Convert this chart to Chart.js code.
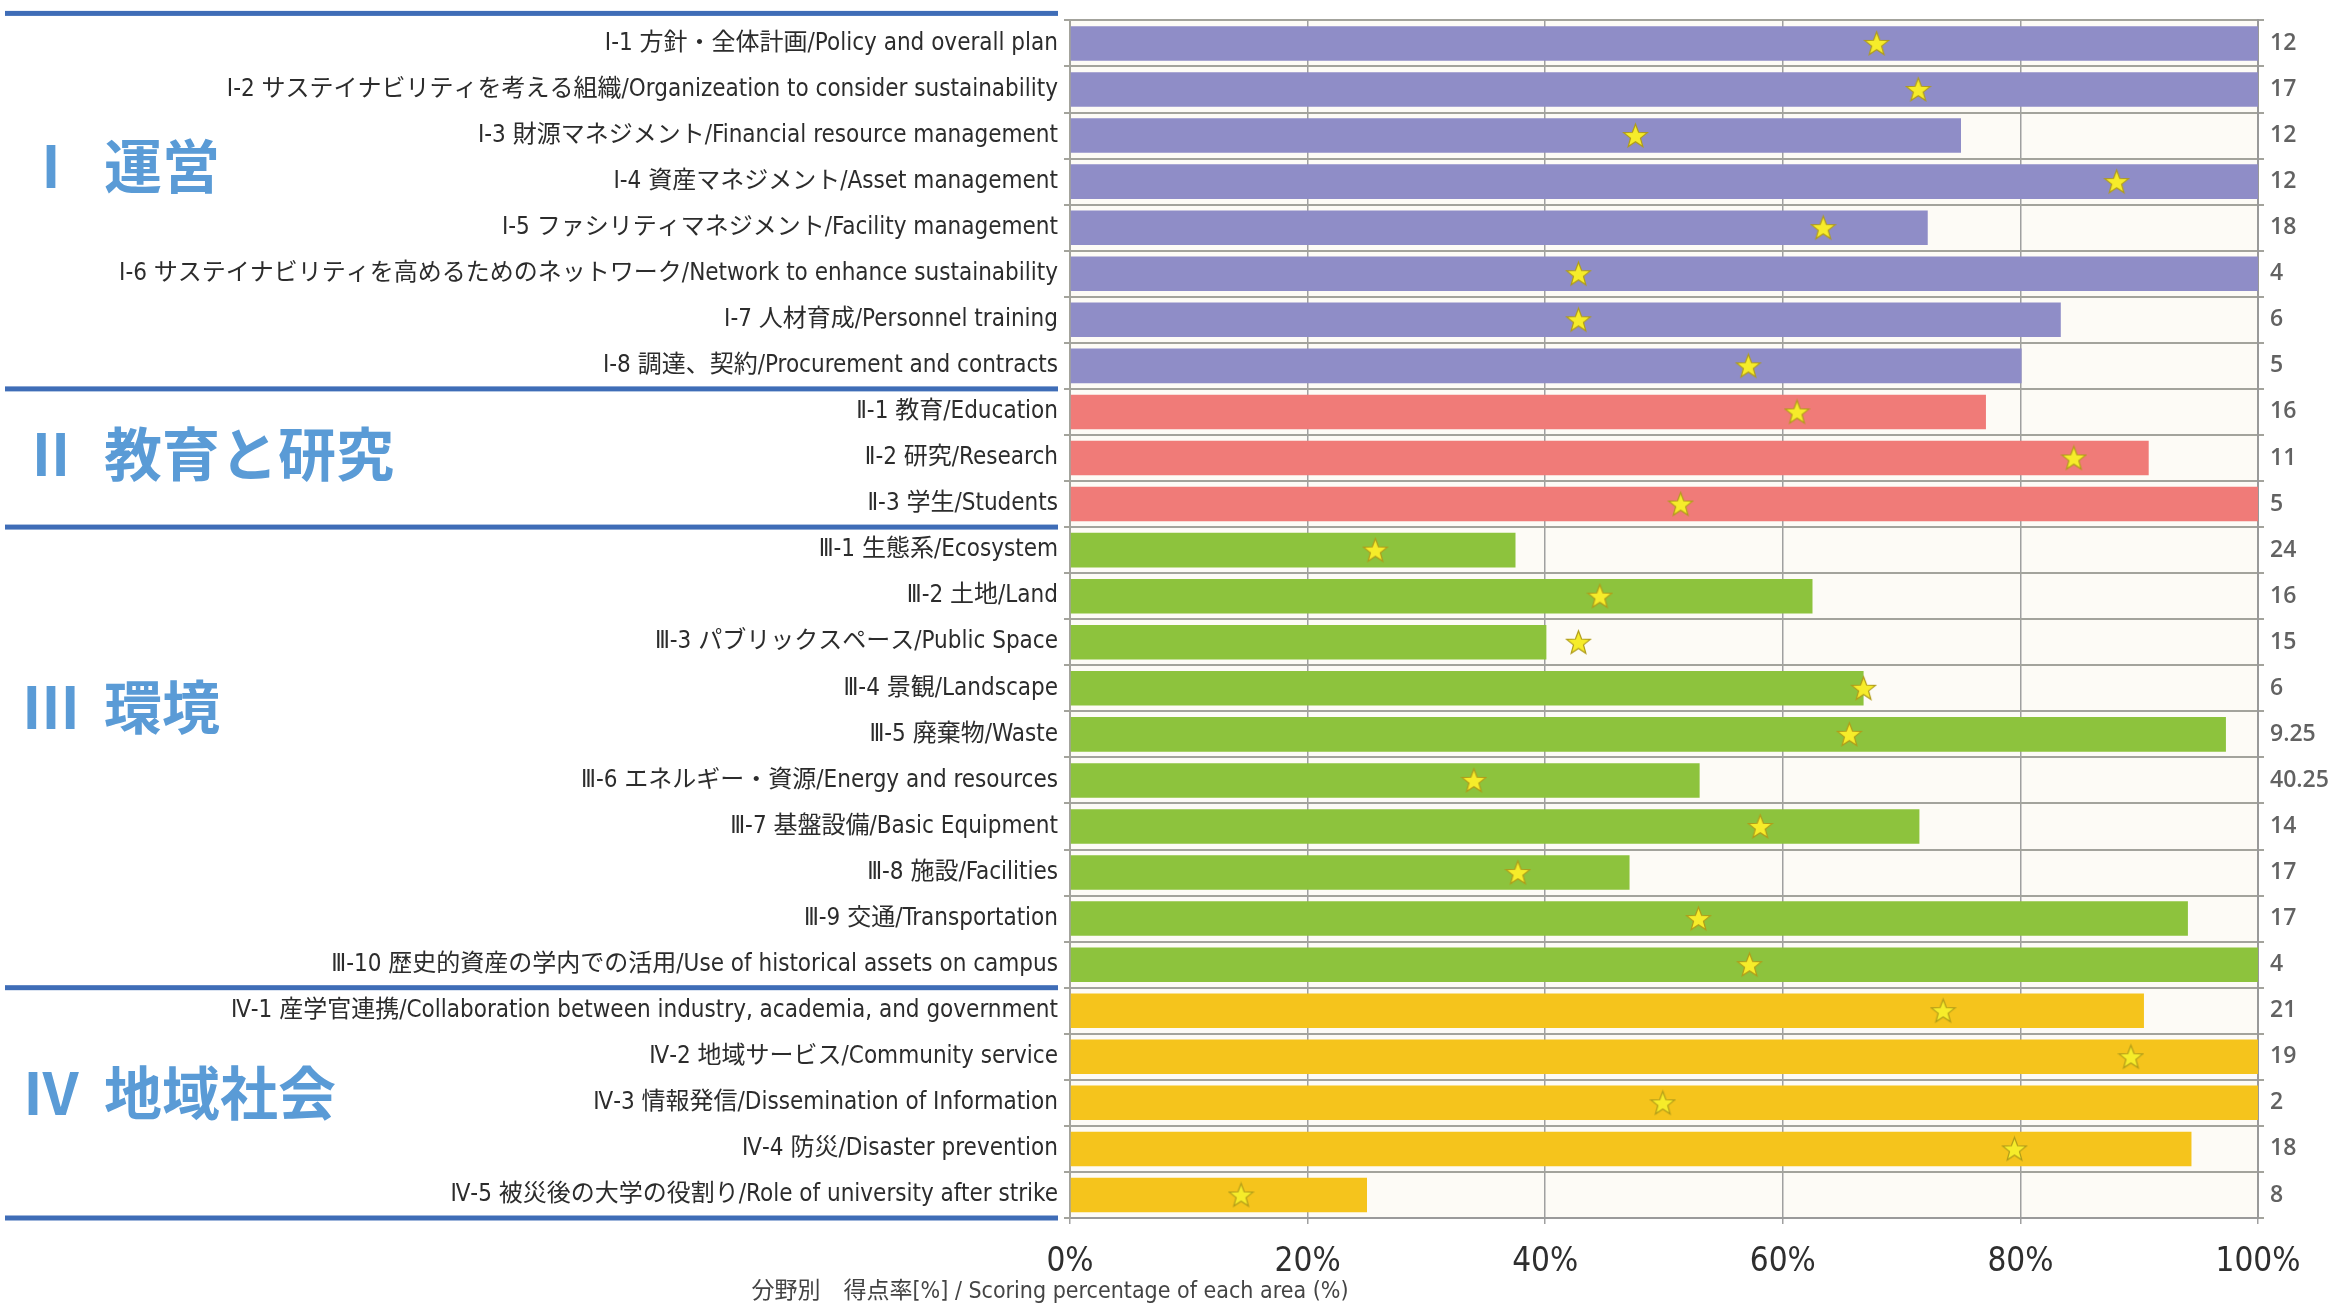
<!DOCTYPE html>
<html lang="ja">
<head>
<meta charset="utf-8">
<title>分野別 得点率</title>
<script src="https://cdn.jsdelivr.net/npm/chart.js@4.4.1/dist/chart.umd.min.js"></script>
<style>
    html, body { margin: 0; padding: 0; background: #ffffff; }
    #wrap { position: relative; width: 2336px; height: 1305px; }
</style>
</head>
<body>
<div id="wrap"><canvas id="score-chart"></canvas></div>
<script>
// item labels, one per row (top to bottom)
const itemLabels = [
    'Ⅰ-1 方針・全体計画/Policy and overall plan',
    'Ⅰ-2 サステイナビリティを考える組織/Organizeation to consider sustainability',
    'Ⅰ-3 財源マネジメント/Financial resource management',
    'Ⅰ-4 資産マネジメント/Asset management',
    'Ⅰ-5 ファシリティマネジメント/Facility management',
    'Ⅰ-6 サステイナビリティを高めるためのネットワーク/Network to enhance sustainability',
    'Ⅰ-7 人材育成/Personnel training',
    'Ⅰ-8 調達、契約/Procurement and contracts',
    'Ⅱ-1 教育/Education',
    'Ⅱ-2 研究/Research',
    'Ⅱ-3 学生/Students',
    'Ⅲ-1 生態系/Ecosystem',
    'Ⅲ-2 土地/Land',
    'Ⅲ-3 パブリックスペース/Public Space',
    'Ⅲ-4 景観/Landscape',
    'Ⅲ-5 廃棄物/Waste',
    'Ⅲ-6 エネルギー・資源/Energy and resources',
    'Ⅲ-7 基盤設備/Basic Equipment',
    'Ⅲ-8 施設/Facilities',
    'Ⅲ-9 交通/Transportation',
    'Ⅲ-10 歴史的資産の学内での活用/Use of historical assets on campus',
    'Ⅳ-1 産学官連携/Collaboration between industry, academia, and government',
    'Ⅳ-2 地域サービス/Community service',
    'Ⅳ-3 情報発信/Dissemination of Information',
    'Ⅳ-4 防災/Disaster prevention',
    'Ⅳ-5 被災後の大学の役割り/Role of university after strike'
];

// scoring percentage (bars)
const scoreRate = [100, 100, 75.0, 100, 72.2, 100, 83.4, 80.1,
    77.1, 90.8, 100,
    37.5, 62.5, 40.1, 66.8, 97.3, 53.0, 71.5, 47.1, 94.1, 100,
    90.4, 100, 100, 94.4, 25.0];

// star markers
const starRate = [67.9, 71.4, 47.6, 88.1, 63.4, 42.8, 42.8, 57.1,
    61.2, 84.5, 51.4,
    25.7, 44.6, 42.8, 66.8, 65.6, 34.0, 58.1, 37.7, 52.9, 57.2,
    73.5, 89.3, 49.9, 79.5, 14.4];

// numbers shown right of the plot
const itemCounts = ['12', '17', '12', '12', '18', '4', '6', '5',
    '16', '11', '5',
    '24', '16', '15', '6', '9.25', '40.25', '14', '17', '17', '4',
    '21', '19', '2', '18', '8'];

const groupNumerals = ['Ⅰ', 'Ⅱ', 'Ⅲ', 'Ⅳ'];
const groupNames = ['運営', '教育と研究', '環境', '地域社会'];
const groupSizes = [8, 3, 10, 5];
const groupColors = ['#8f8dc7', '#f07b78', '#8dc33d', '#f5c41c'];

const xTicks = [0, 20, 40, 60, 80, 100];
const xTitle = '分野別　得点率[%] / Scoring percentage of each area (%)';

(function () {
    'use strict';

    const NARROW = "'Liberation Sans Narrow', 'DejaVu Sans Condensed', 'Noto Sans CJK JP', sans-serif";
    const HEADER_ROW = [2.67, 8.91, 14.4, 22.78];

    function barColors() {
        const out = [];
        groupSizes.forEach(function (n, g) {
            for (let i = 0; i < n; i++) out.push(groupColors[g]);
        });
        return out;
    }

    function makeStar(size) {
        const c = document.createElement('canvas');
        c.width = size;
        c.height = size;
        const ctx = c.getContext('2d');
        const cx = size / 2, cy = size / 2 + 1;
        const ro = size / 2 - 1, ri = ro * 0.42;
        ctx.beginPath();
        for (let i = 0; i < 10; i++) {
            const r = i % 2 === 0 ? ro : ri;
            const a = -Math.PI / 2 + i * Math.PI / 5;
            const px = cx + r * Math.cos(a), py = cy + r * Math.sin(a);
            if (i === 0) ctx.moveTo(px, py); else ctx.lineTo(px, py);
        }
        ctx.closePath();
        ctx.fillStyle = '#f6ec2a';
        ctx.fill();
        ctx.lineWidth = 1.2;
        ctx.strokeStyle = '#b09c1a';
        ctx.stroke();
        return c;
    }

    const plotBackground = {
        id: 'plotBackground',
        beforeDraw: function (chart) {
            const a = chart.chartArea;
            const ctx = chart.ctx;
            ctx.save();
            ctx.fillStyle = '#fdfbf6';
            ctx.fillRect(a.left, a.top, a.right - a.left, a.bottom - a.top);
            ctx.restore();
        }
    };

    // blue separators, group headers and x title
    const decorations = {
        id: 'decorations',
        afterDraw: function (chart) {
            const ctx = chart.ctx;
            const y = chart.scales.y;
            const x = chart.scales.x;
            ctx.save();
            ctx.fillStyle = '#3f6db7';
            let k = 0;
            const bounds = [-0.5];
            groupSizes.forEach(function (n) { k += n; bounds.push(k - 0.5); });
            bounds.forEach(function (b, i) {
                let py = y.getPixelForValue(b);
                if (i === 0) py -= 7;
                ctx.fillRect(5, py - 2.5, 1053, 5);
            });

            ctx.fillStyle = '#5a9bd6';
            ctx.textBaseline = 'middle';
            ctx.font = "bold 58px 'Noto Sans CJK JP', sans-serif";
            HEADER_ROW.forEach(function (r, g) {
                const py = y.getPixelForValue(r);
                ctx.textAlign = 'center';
                ctx.fillText(groupNumerals[g], 51, py);
                ctx.textAlign = 'left';
                ctx.fillText(groupNames[g], 104, py);
            });

            ctx.fillStyle = '#444444';
            ctx.font = '23px ' + NARROW;
            ctx.textAlign = 'center';
            ctx.fillText(xTitle, x.left - 20, 1292);
            ctx.restore();
        }
    };

    function run() {
        const canvas = document.getElementById('score-chart');
        new Chart(canvas, {
            type: 'bar',
            data: {
                labels: itemLabels,
                datasets: [{
                    type: 'line',
                    data: starRate,
                    showLine: false,
                    pointStyle: makeStar(27),
                    pointRadius: 13,
                    order: 0
                }, {
                    data: scoreRate,
                    backgroundColor: barColors(),
                    borderWidth: 0,
                    barPercentage: 0.75,
                    categoryPercentage: 1,
                    order: 1
                }]
            },
            options: {
                indexAxis: 'y',
                responsive: true,
                maintainAspectRatio: false,
                animation: false,
                layout: { padding: { top: 19, bottom: 0, left: 0, right: 0 } },
                plugins: {
                    legend: { display: false },
                    tooltip: { enabled: false }
                },
                scales: {
                    x: {
                        min: 0,
                        max: 100,
                        afterBuildTicks: function (scale) {
                            scale.ticks = xTicks.map(function (v) { return { value: v }; });
                        },
                        afterFit: function (scale) { scale.height = 87; },
                        grid: { color: '#a0a0a0', lineWidth: 1.5, tickLength: 6 },
                        border: { color: '#9a9a9a', width: 2 },
                        ticks: {
                            padding: 19,
                            color: '#2e2e2e',
                            font: { family: NARROW, size: 33 },
                            callback: function (v) { return v + '%'; }
                        }
                    },
                    y: {
                        afterFit: function (scale) { scale.width = 1070; },
                        grid: { color: '#a3a39c', lineWidth: 2, tickLength: 6, offset: true },
                        border: { color: '#a3a39c', width: 2 },
                        ticks: {
                            padding: 6,
                            color: '#2c2c2c',
                            font: { family: NARROW, size: 24 }
                        }
                    },
                    y2: {
                        type: 'category',
                        position: 'right',
                        labels: itemCounts,
                        offset: true,
                        afterFit: function (scale) { scale.width = 78; },
                        grid: { drawOnChartArea: false, color: '#a3a39c', lineWidth: 2, tickLength: 6, offset: true },
                        border: { color: '#999999', width: 2 },
                        ticks: {
                            padding: 6,
                            color: '#626262',
                            font: { family: "'Open Sans', sans-serif", size: 23, weight: '600' }
                        }
                    }
                }
            },
            plugins: [plotBackground, decorations]
        });
    }

    if (document.readyState === 'loading') {
        document.addEventListener('DOMContentLoaded', run);
    } else {
        run();
    }
})();
</script>
</body>
</html>
